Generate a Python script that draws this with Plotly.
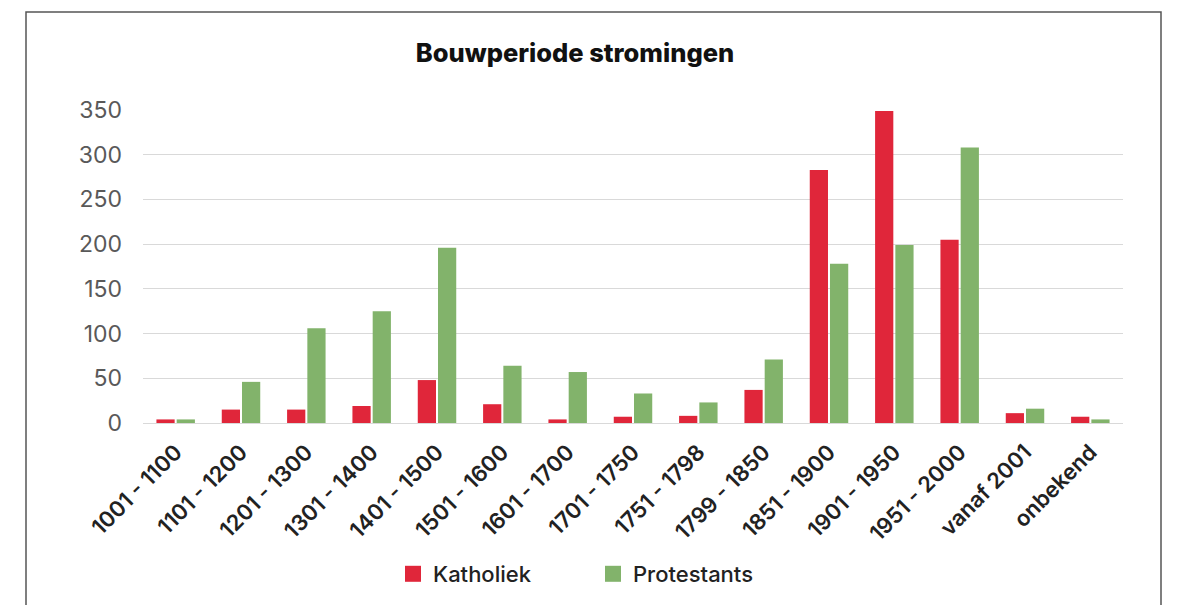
import plotly.graph_objects as go

categories = ["1001 - 1100", "1101 - 1200", "1201 - 1300", "1301 - 1400", "1401 - 1500",
              "1501 - 1600", "1601 - 1700", "1701 - 1750", "1751 - 1798", "1799 - 1850",
              "1851 - 1900", "1901 - 1950", "1951 - 2000", "vanaf 2001", "onbekend"]
katholiek = [4, 15, 15, 19, 48, 21, 4, 7, 8, 37, 283, 349, 205, 11, 7]
protestants = [4, 46, 106, 125, 196, 64, 57, 33, 23, 71, 178, 199, 308, 16, 4]
y_ticks = [0, 50, 100, 150, 200, 250, 300, 350]
series_names = ["Katholiek", "Protestants"]

RED = "#E0263A"
GREEN = "#82B36B"
FONT = "Inter"
W, H = 1171, 597

fig = go.Figure()
for name, vals, col in [(series_names[0], katholiek, RED), (series_names[1], protestants, GREEN)]:
    fig.add_trace(go.Bar(x=categories, y=vals, name=name, marker_color=col,
                         marker_line_width=0, showlegend=False, legendgroup=name))
    # legend entry with a larger square swatch
    fig.add_trace(go.Scatter(x=[None], y=[None], mode="markers", name=name,
                             legendgroup=name,
                             marker=dict(symbol="square", size=17, color=col,
                                         line=dict(width=0))))

fig.update_layout(
    width=W, height=H,
    margin=dict(l=135, r=56, t=102, b=182),
    paper_bgcolor="white", plot_bgcolor="white",
    barmode="group", bargap=0.38, bargroupgap=0.1,
    title=dict(text="Bouwperiode stromingen", x=567 / W, xanchor="center",
               y=1 - 45 / H, yanchor="middle", xref="container", yref="container",
               font=dict(family=FONT, size=25.5, color="#111111", weight=800)),
    font=dict(family=FONT),
    legend=dict(orientation="h", x=585 / W, xref="container", xanchor="center",
                y=1 - 566 / H, yref="container", yanchor="middle",
                font=dict(family=FONT, size=22, color="#222222", weight=500),
                entrywidth=155, itemsizing="trace"),
    xaxis=dict(tickangle=-45, tickfont=dict(family=FONT, size=22, color="#222222", weight=600),
               showgrid=False, showline=False, ticks="", ticklabelstandoff=11,
               automargin=False),
    yaxis=dict(range=[0, 350], tickvals=y_ticks, showgrid=True, gridcolor="#D9D9D9",
               gridwidth=1.3, zeroline=True, zerolinecolor="#D9D9D9", zerolinewidth=1.3,
               tickfont=dict(family=FONT, size=23, color="#595959"),
               ticklabelstandoff=20, showline=False, ticks="", automargin=False),
    shapes=[dict(type="rect", xref="paper", yref="paper",
                 x0=-117 / 980, x1=1 + 38 / 980, y0=-1.0, y1=1 + 98 / 313,
                 line=dict(color="#555555", width=1.5), layer="below")],
)

fig.write_html("out.html")
